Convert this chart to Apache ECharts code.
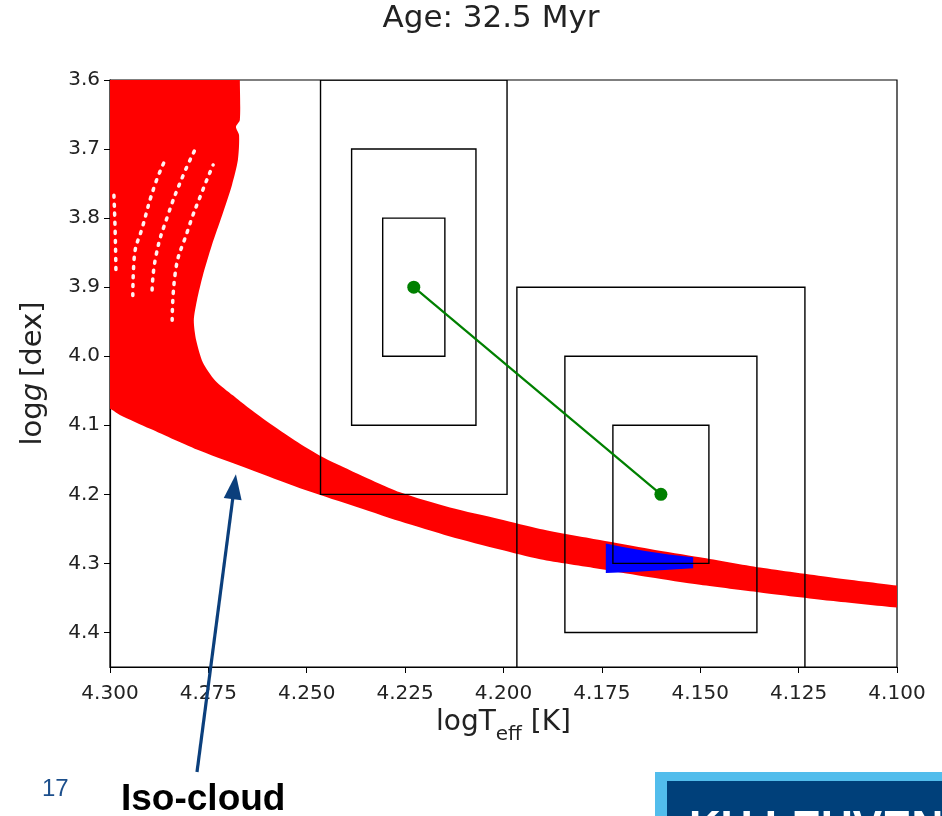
<!DOCTYPE html>
<html>
<head>
<meta charset="utf-8">
<script src="https://cdn.jsdelivr.net/npm/echarts@6/dist/echarts.min.js"></script>
<style>
  html, body { margin: 0; padding: 0; background: #ffffff; }
  #chart { width: 942px; height: 816px; }
</style>
</head>
<body>
<div id="chart"></div>
<script>
// Iso-cloud envelope, upper/right edge from top to bottom (logTeff, logg)
const cloudUpperT = [4.2670, 4.2670, 4.2670, 4.2680, 4.2672, 4.2675, 4.2690, 4.2715, 4.2741, 4.2764, 4.2779, 4.2787, 4.2781, 4.2764, 4.2733, 4.2687, 4.2650, 4.2600, 4.2530, 4.2460, 4.2390, 4.2263, 4.2136, 4.2009, 4.1907, 4.1755, 4.1628, 4.1501, 4.1348, 4.1170, 4.1000, 4.0950];
const cloudUpperG = [3.560, 3.600, 3.658, 3.668, 3.680, 3.716, 3.752, 3.796, 3.839, 3.883, 3.919, 3.948, 3.977, 4.009, 4.035, 4.057, 4.074, 4.095, 4.122, 4.146, 4.165, 4.197, 4.219, 4.236, 4.250, 4.266, 4.279, 4.291, 4.306, 4.320, 4.332, 4.335];
// Lower/left edge, from the cool end back to the hot end
const cloudLowerT = [4.0950, 4.1000, 4.1170, 4.1348, 4.1501, 4.1628, 4.1755, 4.1907, 4.2009, 4.2136, 4.2263, 4.2390, 4.2517, 4.2644, 4.2771, 4.2898, 4.2975, 4.3000, 4.3050, 4.3050];
const cloudLowerG = [4.367, 4.364, 4.354, 4.342, 4.331, 4.320, 4.308, 4.294, 4.280, 4.261, 4.239, 4.215, 4.191, 4.164, 4.137, 4.105, 4.085, 4.076, 4.068, 3.560];

// Models compatible with the observed star
const matchT = [4.1740, 4.1700, 4.1640, 4.1580, 4.1518, 4.1518, 4.1580, 4.1660, 4.1740];
const matchG = [4.271, 4.276, 4.282, 4.287, 4.291, 4.307, 4.309, 4.312, 4.314];

// Gaps between neighbouring isochrone tracks
const gap1T = [4.2990, 4.2987, 4.2985];
const gap1G = [3.767, 3.817, 3.875];
const gap2T = [4.2942, 4.2939, 4.2916, 4.2886, 4.2860];
const gap2G = [3.912, 3.861, 3.810, 3.752, 3.716];
const gap3T = [4.2893, 4.2883, 4.2853, 4.2814, 4.2784];
const gap3G = [3.904, 3.854, 3.796, 3.738, 3.701];
const gap4T = [4.2842, 4.2835, 4.2802, 4.2764, 4.2738];
const gap4G = [3.948, 3.883, 3.817, 3.759, 3.723];

// Observed positions and their uncertainties
const starT = [4.2228, 4.1600];
const starG = [3.9, 4.2];
const starSigT = [0.0079, 0.0122];
const starSigG = [0.1, 0.1];
const sigmaLevels = [1, 2, 3];

// Axis ticks
const xTicks = [4.300, 4.275, 4.250, 4.225, 4.200, 4.175, 4.150, 4.125, 4.100];
const yTicks = [3.6, 3.7, 3.8, 3.9, 4.0, 4.1, 4.2, 4.3, 4.4];

// Arrow pointing at the cloud
const arrowTip = [4.2680, 4.171];

const chart = echarts.init(document.getElementById('chart'));

function polygonSeries(tArr, gArr, color, z, smooth) {
  return {
    type: 'custom',
    coordinateSystem: 'cartesian2d',
    clip: true,
    silent: true,
    z: z,
    data: [[tArr[0], gArr[0]]],
    renderItem: function (params, api) {
      const pts = tArr.map(function (t, i) { return api.coord([t, gArr[i]]); });
      return { type: 'polygon', shape: { points: pts, smooth: smooth || 0 }, style: { fill: color } };
    }
  };
}

const cloudT = cloudUpperT.concat(cloudLowerT);
const cloudG = cloudUpperG.concat(cloudLowerG);

const boxData = [];
starT.forEach(function (t, i) {
  sigmaLevels.forEach(function (k) {
    boxData.push([t, starG[i], starSigT[i], starSigG[i], k]);
  });
});

function gapSeries(tArr, gArr) {
  return {
    type: 'line',
    data: tArr.map(function (t, i) { return [t, gArr[i]]; }),
    smooth: true,
    symbol: 'none',
    silent: true,
    z: 3,
    lineStyle: { color: '#ffffff', width: 3.5, type: [2, 7], cap: 'round', opacity: 0.95 }
  };
}

const labelColor = '#222222';

const option = {
  animation: false,
  backgroundColor: '#ffffff',
  grid: {
    left: 110, top: 80, right: 45, bottom: 149,
    show: true, borderColor: '#000000', borderWidth: 1.2, backgroundColor: 'transparent'
  },
  xAxis: {
    type: 'value',
    min: 4.1, max: 4.3, interval: 0.025,
    inverse: true,
    name: '{a|logT}{s|eff}{a| [K]}',
    nameLocation: 'middle',
    nameGap: 23,
    nameTextStyle: {
      rich: {
        a: { fontFamily: 'DejaVu Sans', fontSize: 28, color: labelColor, lineHeight: 36, verticalAlign: 'top' },
        s: { fontFamily: 'DejaVu Sans', fontSize: 20, color: labelColor, lineHeight: 26, verticalAlign: 'bottom' }
      }
    },
    axisLine: { show: true, onZero: false, lineStyle: { color: '#000000', width: 1.2 } },
    axisTick: { show: true, length: 6, lineStyle: { color: '#000000', width: 1 } },
    axisLabel: {
      fontFamily: 'DejaVu Sans', fontSize: 20, color: labelColor, margin: 17,
      formatter: function (v) { return Number(v).toFixed(3); }
    },
    splitLine: { show: false }
  },
  yAxis: {
    type: 'value',
    min: 3.6, max: 4.45, interval: 0.1,
    inverse: true,
    name: '{a|log}{i|g}{a|\u2009[dex]}',
    nameLocation: 'middle',
    nameRotate: 90,
    nameGap: 62,
    nameTextStyle: {
      rich: {
        a: { fontFamily: 'DejaVu Sans', fontSize: 29, color: labelColor },
        i: { fontFamily: 'DejaVu Sans', fontSize: 29, fontStyle: 'italic', color: labelColor }
      }
    },
    axisLine: { show: true, onZero: false, lineStyle: { color: '#000000', width: 1.2 } },
    axisTick: { show: true, length: 6, customValues: yTicks, lineStyle: { color: '#000000', width: 1 } },
    axisLabel: {
      fontFamily: 'DejaVu Sans', fontSize: 20, color: labelColor, margin: 10,
      customValues: yTicks,
      formatter: function (v) { return Number(v).toFixed(1); }
    },
    splitLine: { show: false }
  },
  series: [
    polygonSeries(cloudT, cloudG, '#ff0000', 1, 0.25),
    gapSeries(gap1T, gap1G),
    gapSeries(gap2T, gap2G),
    gapSeries(gap3T, gap3G),
    gapSeries(gap4T, gap4G),
    polygonSeries(matchT, matchG, '#0000ff', 4, 0),
    {
      type: 'custom',
      coordinateSystem: 'cartesian2d',
      clip: true,
      silent: true,
      z: 5,
      data: boxData,
      renderItem: function (params, api) {
        const t = api.value(0), g = api.value(1), st = api.value(2), sg = api.value(3), k = api.value(4);
        const p0 = api.coord([t - k * st, g - k * sg]);
        const p1 = api.coord([t + k * st, g + k * sg]);
        return {
          type: 'rect',
          shape: {
            x: Math.min(p0[0], p1[0]), y: Math.min(p0[1], p1[1]),
            width: Math.abs(p1[0] - p0[0]), height: Math.abs(p1[1] - p0[1])
          },
          style: { fill: 'none', stroke: '#000000', lineWidth: 1.4 }
        };
      }
    },
    {
      type: 'line',
      data: starT.map(function (t, i) { return [t, starG[i]]; }),
      symbol: 'circle',
      symbolSize: 13,
      z: 6,
      silent: true,
      lineStyle: { color: '#008000', width: 2.2 },
      itemStyle: { color: '#008000' }
    }
  ]
};

chart.setOption(option);

// Annotation layer: title, arrow, caption, slide number and logo
const tip = chart.convertToPixel({ gridIndex: 0 }, arrowTip);
const tail = [197, 772];
const dx = tip[0] - tail[0], dy = tip[1] - tail[1];
const len = Math.sqrt(dx * dx + dy * dy);
const ux = dx / len, uy = dy / len;
const headLen = 25, headHalf = 9;
const base = [tip[0] - ux * headLen, tip[1] - uy * headLen];
const arrowColor = '#0b3f7c';

chart.setOption({
  graphic: [
    {
      type: 'text', x: 491, y: 19,
      style: { text: 'Age: 32.5 Myr', fontFamily: 'DejaVu Sans', fontSize: 31, fill: labelColor, align: 'center', verticalAlign: 'middle' }
    },
    {
      type: 'line', z: 100,
      shape: { x1: tail[0], y1: tail[1], x2: base[0] + ux * 2, y2: base[1] + uy * 2 },
      style: { stroke: arrowColor, lineWidth: 3.2 }
    },
    {
      type: 'polygon', z: 100,
      shape: { points: [
        tip,
        [base[0] - uy * headHalf, base[1] + ux * headHalf],
        [base[0] + uy * headHalf, base[1] - ux * headHalf]
      ] },
      style: { fill: arrowColor }
    },
    {
      type: 'text', x: 42, y: 789,
      style: { text: '17', fontFamily: 'Liberation Sans', fontSize: 24, fill: '#1c4f8c', verticalAlign: 'middle' }
    },
    {
      type: 'text', x: 121, y: 800,
      style: { text: 'Iso-cloud', fontFamily: 'Liberation Sans', fontWeight: 'bold', fontSize: 37, fill: '#000000', verticalAlign: 'middle' }
    },
    {
      type: 'rect', shape: { x: 655, y: 772, width: 300, height: 60 },
      style: { fill: '#52bdec' }
    },
    {
      type: 'rect', shape: { x: 667, y: 781, width: 290, height: 60 },
      style: { fill: '#00407a' }
    },
    {
      type: 'text', x: 689, y: 830,
      style: { text: 'KU LEUVEN', fontFamily: 'Liberation Sans', fontWeight: 'bold', fontSize: 44, fill: '#ffffff', verticalAlign: 'middle' }
    }
  ]
});
</script>
</body>
</html>
